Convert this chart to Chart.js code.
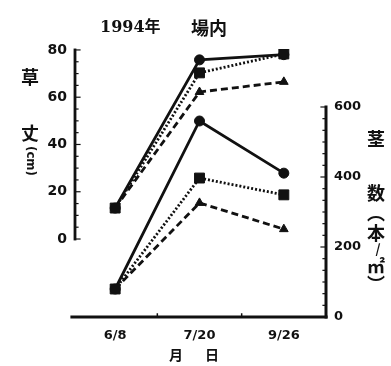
<!DOCTYPE html>
<html>
<head>
<meta charset="utf-8">
<script src="https://cdn.jsdelivr.net/npm/chart.js@4/dist/chart.umd.min.js"></script>
<style>
html,body{margin:0;padding:0;background:#fff;}
#wrap{width:391px;height:366px;position:relative;}
</style>
</head>
<body>
<div id="wrap"><canvas id="chart"></canvas></div>
<script>
// ==========================
// DATOS
// ==========================
const dates = ["6/8", "7/20", "9/26"];

// 草丈 (cm) - eje izquierdo
const heightSolid  = [13.1, 75.8, 78.0];
const heightDotted = [13.1, 70.3, 78.3];
const heightDashed = [13.1, 62.2, 66.5];

// 茎数 (本/㎡) - eje derecho
const stemSolid  = [80, 560, 411];
const stemDotted = [80, 397, 349];
const stemDashed = [80, 326, 251];

const leftTicks  = [0, 20, 40, 60, 80];
const rightTicks = [0, 200, 400, 600];

const titleLeft  = "1994年";
const titleRight = "場内";
const xTitleA    = "月";
const xTitleB    = "日";

// ==========================
// ESTILO
// ==========================
const INK = "#111";
const jpFont = 'bold 18px "Noto Sans CJK JP", sans-serif';
const tickFamily = '"DejaVu Sans", sans-serif';

function series(data, axis, dash, shape, r){
    return {
        data: data,
        yAxisID: axis,
        borderColor: INK,
        backgroundColor: INK,
        borderWidth: 2.8,
        borderDash: dash,
        pointStyle: shape,
        pointRadius: r,
        pointBorderWidth: 1,
        tension: 0,
        fill: false
    };
}

// ejes, marcas y textos dibujados a mano
const decor = {
    id: "decor",
    afterDraw(chart){
        const ctx = chart.ctx;
        const ca = chart.chartArea;
        const yL = chart.scales.yL;
        const yR = chart.scales.yR;
        ctx.save();
        ctx.strokeStyle = INK;
        ctx.fillStyle = INK;
        ctx.lineCap = "square";

        // eje izquierdo 0-80
        const lx = ca.left + 2;
        ctx.lineWidth = 2.8;
        ctx.beginPath();
        ctx.moveTo(lx, yL.getPixelForValue(0));
        ctx.lineTo(lx, yL.getPixelForValue(80));
        ctx.stroke();
        ctx.lineWidth = 1.2;
        for(let v = 0; v <= 80; v += 5){
            const y = yL.getPixelForValue(v);
            ctx.beginPath();
            ctx.moveTo(lx, y);
            ctx.lineTo(lx + (v % 20 === 0 ? 5 : 3), y);
            ctx.stroke();
        }

        // eje derecho 0-600
        const rx = ca.right;
        ctx.lineWidth = 3;
        ctx.beginPath();
        ctx.moveTo(rx, yR.getPixelForValue(0));
        ctx.lineTo(rx, yR.getPixelForValue(600));
        ctx.stroke();
        ctx.lineWidth = 1.2;
        for(let i = 0; i <= 18; i++){
            const v = i * 100 / 3;
            const y = yR.getPixelForValue(v);
            ctx.beginPath();
            ctx.moveTo(rx, y);
            ctx.lineTo(rx - (i % 6 === 0 ? 5 : 3), y);
            ctx.stroke();
        }

        // eje x
        ctx.lineWidth = 3.2;
        ctx.beginPath();
        ctx.moveTo(ca.left - 1, ca.bottom);
        ctx.lineTo(rx, ca.bottom);
        ctx.stroke();
        ctx.lineWidth = 1.5;
        const step = (ca.right - ca.left) / dates.length;
        for(let i = 1; i < dates.length; i++){
            const x = ca.left + step * i;
            ctx.beginPath();
            ctx.moveTo(x, ca.bottom);
            ctx.lineTo(x, ca.bottom - 3);
            ctx.stroke();
        }

        // textos
        ctx.textBaseline = "middle";
        ctx.textAlign = "left";
        ctx.font = 'bold 16px "DejaVu Serif", "Noto Sans CJK JP", serif';
        ctx.fillText(titleLeft, 100, 28);
        ctx.font = 'bold 18px "Noto Sans CJK JP", sans-serif';
        ctx.fillText(titleRight, 191, 28);

        ctx.textAlign = "center";
        ctx.font = jpFont;
        ctx.fillText("草", 30, 77);
        ctx.fillText("丈", 30, 133);
        ctx.save();
        ctx.translate(30, 161);
        ctx.rotate(Math.PI / 2);
        ctx.font = 'bold 13px "DejaVu Sans Condensed", "DejaVu Sans", sans-serif';
        ctx.fillText("(cm)", 0, 0);
        ctx.restore();

        const tx = 376;
        ctx.font = jpFont;
        ctx.fillText("茎", tx, 139);
        ctx.fillText("数", tx, 193);
        ctx.fillText("︵", tx, 213);
        ctx.fillText("本", tx, 233);
        ctx.font = 'bold 13px "Noto Sans CJK JP", sans-serif';
        ctx.fillText("/", tx + 2, 249);
        ctx.font = jpFont;
        ctx.fillText("㎡", tx, 266);
        ctx.fillText("︶", tx, 284);

        ctx.font = 'bold 14px "Noto Sans CJK JP", sans-serif';
        ctx.fillText(xTitleA, 176, 355);
        ctx.fillText(xTitleB, 212, 355);
        ctx.restore();
    }
};

// ==========================
// GRÁFICA
// ==========================
new Chart(document.getElementById("chart"), {
    type: "line",
    data: {
        labels: dates,
        datasets: [
            series(heightDotted, "yL", [2, 2], "rect", 7),
            series(heightSolid,  "yL", [],     "circle", 5),
            series(heightDashed, "yL", [7, 4], "triangle", 5),
            series(stemDotted,   "yR", [2, 2], "rect", 7),
            series(stemSolid,    "yR", [],     "circle", 5),
            series(stemDashed,   "yR", [7, 4], "triangle", 5)
        ]
    },
    options: {
        responsive: true,
        maintainAspectRatio: false,
        animation: false,
        layout: { padding: { top: 49, left: 0, right: 0, bottom: 0 } },
        plugins: {
            legend: { display: false },
            tooltip: { enabled: false }
        },
        scales: {
            x: {
                type: "category",
                offset: true,
                grid: { display: false, drawTicks: false },
                border: { display: false },
                ticks: { color: INK, font: { family: tickFamily, size: 13, weight: "bold" }, padding: 11, maxRotation: 0 },
                afterFit(s){ s.height = 49; }
            },
            yL: {
                position: "left",
                min: -33,
                max: 80.4,
                grid: { display: false, drawTicks: false },
                border: { display: false },
                ticks: { color: INK, font: { family: tickFamily, size: 14, weight: "bold" }, padding: 6 },
                afterBuildTicks(s){ s.ticks = leftTicks.map(v => ({ value: v })); },
                afterFit(s){ s.width = 73; }
            },
            yR: {
                position: "right",
                min: 0,
                max: 765.7,
                grid: { display: false, drawTicks: false },
                border: { display: false },
                ticks: { color: INK, font: { family: tickFamily, size: 13, weight: "bold" }, padding: 8 },
                afterBuildTicks(s){ s.ticks = rightTicks.map(v => ({ value: v })); },
                afterFit(s){ s.width = 65; }
            }
        }
    },
    plugins: [decor]
});
</script>
</body>
</html>
